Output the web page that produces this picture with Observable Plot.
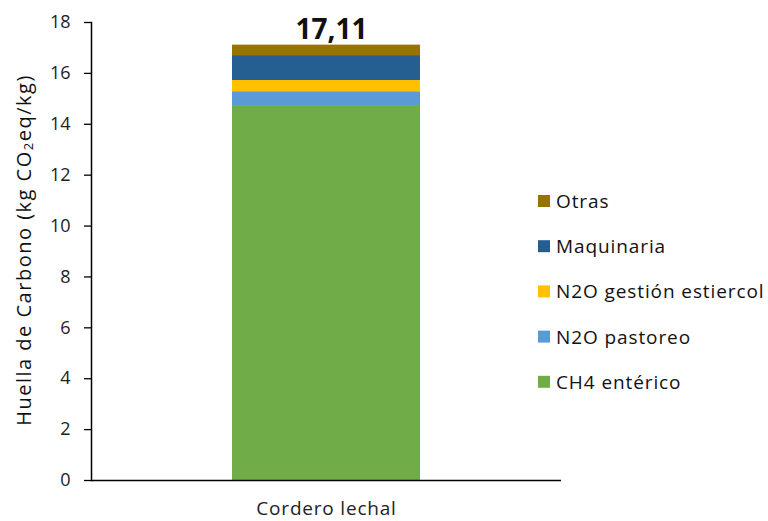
<!DOCTYPE html>
<html>
<head>
<meta charset="utf-8">
<script src="https://cdn.jsdelivr.net/npm/d3@7"></script>
<script src="https://cdn.jsdelivr.net/npm/@observablehq/plot@0.6"></script>
<style>
  html, body { margin: 0; padding: 0; background: #fff; }
  #chart { position: relative; width: 768px; height: 521px; }
</style>
</head>
<body>
<div id="chart"></div>
<script>
const categories = ["Cordero lechal"];
const series = ["CH4 entérico", "N2O pastoreo", "N2O gestión estiercol", "Maquinaria", "Otras"];
const values = [14.70, 0.58, 0.44, 0.98, 0.41];
const colors = ["#70AD47", "#5B9BD5", "#FFC000", "#255E91", "#997300"];
const totalLabel = "17,11";
const totalValue = 17.11;
const yTicks = [0, 2, 4, 6, 8, 10, 12, 14, 16, 18];

const data = series.map((s, i) => ({cat: categories[0], series: s, value: values[i]}));
const FONT = "Open Sans";

const plot = Plot.plot({
  width: 768,
  height: 521,
  marginLeft: 91,
  marginRight: 207,
  marginTop: 22,
  marginBottom: 41,
  style: {fontFamily: FONT, background: "#fff", color: "#000"},
  x: {domain: categories, paddingInner: 0, paddingOuter: 0.75, label: null},
  y: {domain: [0, 18], label: null},
  color: {domain: series, range: colors},
  marks: [
    Plot.barY(data, {x: "cat", y: "value", fill: "series"}),
    Plot.ruleY([0], {stroke: "#000", strokeWidth: 1.5}),
    Plot.axisY({ticks: yTicks, tickSize: 7, tickPadding: 14, fontSize: 18, stroke: "#000", strokeWidth: 1.3, fill: "#222", tickFormat: d => d}),
    Plot.frame({anchor: "left", stroke: "#000", strokeWidth: 1.5}),
    Plot.axisX({tickSize: 0, tickPadding: 21, fontSize: 19, fill: "#222"}),
    Plot.text([{cat: categories[0], v: totalValue, t: totalLabel}], {
      x: "cat", y: "v", text: "t", lineAnchor: "bottom", dy: -6, dx: 5,
      fontSize: 28, fontWeight: "bold", fill: "#111"
    })
  ]
});

document.getElementById("chart").appendChild(plot);

const svg = d3.select(plot);

// widen x tick label spacing
svg.selectAll('[aria-label="x-axis tick label"] text').attr("letter-spacing", 0.8);

// Y axis title with subscript
const title = svg.append("text")
  .attr("transform", "translate(23,250) rotate(-90)")
  .attr("text-anchor", "middle")
  .attr("dominant-baseline", "central")
  .attr("font-family", FONT)
  .attr("font-size", 20)
  .attr("letter-spacing", 1.5)
  .attr("fill", "#111");
title.append("tspan").text("Huella de Carbono (kg CO");
title.append("tspan").attr("font-size", 13).attr("dy", 5).text("2");
title.append("tspan").attr("dy", -5).text("eq/kg)");

// Legend (reverse order, top = Otras)
const legendY0 = 201, legendStep = 45.2;
const legendItems = series.map((s, i) => ({s, c: colors[i]})).reverse();
const lg = svg.append("g").attr("font-family", FONT).attr("font-size", 19).attr("text-anchor", "start");
legendItems.forEach((d, i) => {
  const y = legendY0 + i * legendStep;
  lg.append("rect").attr("x", 538).attr("y", y - 6).attr("width", 12).attr("height", 12).attr("fill", d.c);
  lg.append("text").attr("x", 556).attr("y", y).attr("dominant-baseline", "central")
    .attr("letter-spacing", 0.9).attr("fill", "#111").text(d.s);
});
</script>
</body>
</html>
